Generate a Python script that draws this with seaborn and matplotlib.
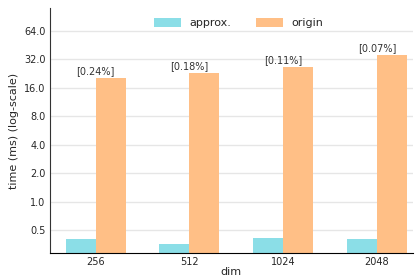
import pandas as pd
import matplotlib
matplotlib.use("Agg")
import matplotlib.pyplot as plt
import seaborn as sns

# ---------- DATA ----------
dims = ["256", "512", "1024", "2048"]
approx_ms = [0.40, 0.355, 0.41, 0.40]
origin_ms = [20.4, 23.2, 26.9, 36.0]
ratio_labels = ["[0.24%]", "[0.18%]", "[0.11%]", "[0.07%]"]
y_ticks = [0.5, 1.0, 2.0, 4.0, 8.0, 16.0, 32.0, 64.0]

df = pd.DataFrame({
    "dim": dims * 2,
    "time": approx_ms + origin_ms,
    "method": ["approx."] * len(dims) + ["origin"] * len(dims),
})

sns.set_style("white")
plt.rcParams["font.family"] = ["DejaVu Sans"]

fig = plt.figure(figsize=(4.15, 2.76), dpi=100)
ax = fig.add_axes([0.12, 0.083, 0.875, 0.888])

palette = {"approx.": "#8bdee7", "origin": "#ffbf86"}
sns.barplot(data=df, x="dim", y="time", hue="method", palette=palette,
            width=0.64, saturation=1, linewidth=0, ax=ax)

ax.set_yscale("log", base=2)
ax.set_ylim(0.285, 112)
ax.set_xlim(-0.49, 3.385)
ax.set_yticks(y_ticks)
ax.set_yticklabels([f"{t:.1f}" for t in y_ticks])
ax.minorticks_off()
ax.yaxis.grid(True, color="#e6e6e6", linewidth=1)
ax.set_axisbelow(True)

for i, lab in enumerate(ratio_labels):
    ax.text(i, origin_ms[i] * 1.04, lab, ha="center", va="bottom", fontsize=7, color="#333333")

ax.tick_params(axis="y", labelsize=7, length=2, width=0.8, pad=1)
ax.tick_params(axis="x", labelsize=7, length=0, pad=3)
ax.set_xlabel("dim", fontsize=8, labelpad=0)
ax.set_ylabel("time (ms) (log-scale)", fontsize=8, labelpad=4)

for s in ["top", "right"]:
    ax.spines[s].set_visible(False)
ax.spines["left"].set_color("#333333")
ax.spines["bottom"].set_color("black")

ax.legend(loc="upper center", bbox_to_anchor=(0.52, 1.0), ncol=2, frameon=False,
          fontsize=8, handlelength=2.4, handleheight=0.9, columnspacing=2.2)

fig.savefig("out.png", dpi=100)
